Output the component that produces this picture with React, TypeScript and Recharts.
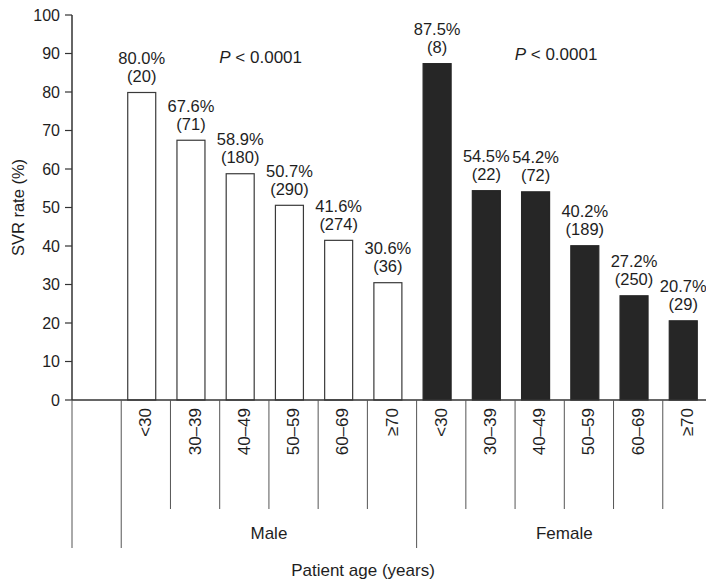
import React from 'react';
import { BarChart, Bar, XAxis, YAxis, Cell, LabelList, ReferenceDot } from 'recharts';

// age groups shown under each gender block
const ageGroups = ['<30', '30–39', '40–49', '50–59', '60–69', '≥70'];
const maleRates = [80.0, 67.6, 58.9, 50.7, 41.6, 30.6];
const maleCounts = [20, 71, 180, 290, 274, 36];
const femaleRates = [87.5, 54.5, 54.2, 40.2, 27.2, 20.7];
const femaleCounts = [8, 22, 72, 189, 250, 29];
const yTicks = [0, 10, 20, 30, 40, 50, 60, 70, 80, 90, 100];
const pNotes = [
    { anchor: 'M2', y: 89.2 },
    { anchor: 'F2', y: 89.8 },
];

const FONT = '"Liberation Sans", Arial, Helvetica, sans-serif';
const INK = '#1e1e1e';
const W = 720;
const H = 581;
const MARGIN = { top: 15, right: 8, bottom: 0, left: 0 };
const Y_AXIS_W = 72;
const X_AXIS_H = 181;
const SHIFT = -4; // bars sit a little left of the slot centre

interface Row {
    key: string;
    sex: string;
    age: string;
    idx: number;
    rate: number | null;
    n: number | null;
}

const rows: Row[] = [
    { key: 'blank', sex: '', age: '', idx: -1, rate: null, n: null },
    ...ageGroups.map((age, i) => ({ key: `M${i}`, sex: 'Male', age, idx: i, rate: maleRates[i], n: maleCounts[i] })),
    ...ageGroups.map((age, i) => ({ key: `F${i}`, sex: 'Female', age, idx: i, rate: femaleRates[i], n: femaleCounts[i] })),
];

const SLOT = (W - MARGIN.left - MARGIN.right - Y_AXIS_W) / rows.length;

const AgeTick = (props: any) => {
    const { x, y, index } = props;
    const row = rows[index];
    if (!row) return null;
    const left = x - SLOT / 2;
    const long = index === 0 || row.idx === 0;
    const ty = y + 8;
    return (
        <g>
            <line x1={left} x2={left} y1={y} y2={y + (long ? 148 : 109)} stroke="#555" strokeWidth={1} />
            {row.age && (
                <text
                    x={x}
                    y={ty}
                    transform={`rotate(-90, ${x}, ${ty})`}
                    textAnchor="end"
                    dominantBaseline="central"
                    fontSize={17}
                    fontFamily={FONT}
                    fill={INK}
                >
                    {row.age}
                </text>
            )}
            {row.idx === 3 && (
                <text x={left} y={y + 139} textAnchor="middle" fontSize={17} fontFamily={FONT} fill={INK}>
                    {row.sex}
                </text>
            )}
        </g>
    );
};

const ShiftedBar = (props: any) => {
    const { x, y, width, height, fill, stroke } = props;
    if (!height) return null;
    return <rect x={x + SHIFT + 0.5} y={y + 0.5} width={width - 1} height={height - 0.5} fill={fill} stroke={stroke} strokeWidth={1.2} />;
};

const BarLabel = (props: any) => {
    const { x, y, width, value } = props;
    const row = rows.find((r) => r.key === value);
    if (!row || row.rate == null) return null;
    const cx = x + width / 2 + SHIFT;
    return (
        <g fontSize={16.5} fontFamily={FONT} fill={INK} textAnchor="middle">
            <text x={cx} y={y - 28}>{`${row.rate.toFixed(1)}%`}</text>
            <text x={cx} y={y - 10}>{`(${row.n})`}</text>
        </g>
    );
};

const PLabel = (props: any) => {
    const vb = props.viewBox || {};
    return (
        <text x={vb.x - 25} y={vb.y + 6} fontSize={17} fontFamily={FONT} fill={INK}>
            <tspan fontStyle="italic">P</tspan> &lt; 0.0001
        </text>
    );
};

const YTitle = (props: any) => {
    const vb = props.viewBox;
    const cx = vb.x + 18;
    const cy = vb.y + vb.height / 2;
    return (
        <text
            x={cx}
            y={cy}
            transform={`rotate(-90, ${cx}, ${cy})`}
            textAnchor="middle"
            dominantBaseline="central"
            fontSize={16.5}
            fontFamily={FONT}
            fill={INK}
        >
            SVR rate (%)
        </text>
    );
};

const XTitle = (props: any) => {
    const vb = props.viewBox;
    return (
        <text x={vb.x + vb.width / 2 - 29} y={vb.y + 176} textAnchor="middle" fontSize={17} fontFamily={FONT} fill={INK}>
            Patient age (years)
        </text>
    );
};

const App: React.FC = () => {
    return (
        <div style={{ position: 'fixed', left: 0, top: 0, width: 706, height: 581, overflow: 'hidden', background: '#fff' }}>
            <BarChart width={W} height={H} data={rows} margin={MARGIN} barCategoryGap={0}>
                <XAxis
                    dataKey="key"
                    height={X_AXIS_H}
                    interval={0}
                    tickLine={false}
                    tickSize={0}
                    tickMargin={0}
                    axisLine={{ stroke: '#333', strokeWidth: 1.5 }}
                    tick={AgeTick}
                    label={{ content: XTitle }}
                />
                <YAxis
                    width={Y_AXIS_W}
                    domain={[0, 100]}
                    ticks={yTicks}
                    interval={0}
                    tickSize={7}
                    tickMargin={5}
                    axisLine={{ stroke: '#333', strokeWidth: 1.5 }}
                    tickLine={{ stroke: '#333', strokeWidth: 1.2 }}
                    tick={{ fontSize: 16, fontFamily: FONT, fill: INK }}
                    label={{ content: YTitle }}
                />
                <Bar dataKey="rate" barSize={29} isAnimationActive={false} shape={ShiftedBar}>
                    {rows.map((r) => (
                        <Cell
                            key={r.key}
                            fill={r.sex === 'Female' ? '#262626' : '#ffffff'}
                            stroke={r.sex === 'Female' ? '#262626' : '#3a3a3a'}
                        />
                    ))}
                    <LabelList dataKey="key" content={BarLabel} />
                </Bar>
                {pNotes.map((p) => (
                    <ReferenceDot key={p.anchor} x={p.anchor} y={p.y} r={0} fill="none" stroke="none" label={{ content: PLabel }} />
                ))}
            </BarChart>
        </div>
    );
};

export default App;
